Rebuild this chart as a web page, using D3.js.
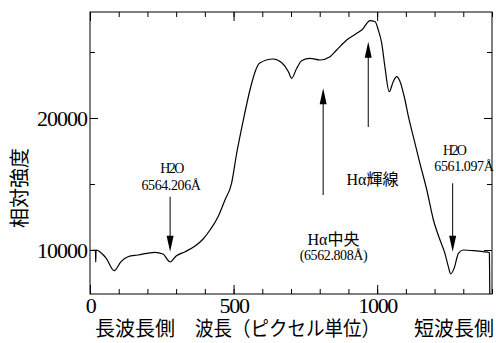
<!DOCTYPE html>
<html>
<head>
<meta charset="utf-8">
<script src="https://cdn.jsdelivr.net/npm/d3@7"></script>
<style>
body { margin: 0; background: #fff; }
svg { display: block; }
text { font-family: "Liberation Serif", "Noto Sans CJK JP", serif; fill: #000; }
</style>
</head>
<body>
<script>
// spectrum: pixel index and relative intensity
var pixel = [0, 19, 20, 21, 38, 56, 84, 108, 132, 167, 226, 254, 279, 300, 331, 366, 394, 418, 446, 470,
    493, 511, 534, 557, 575, 590, 638, 668, 691, 702, 720, 737, 766, 801, 836, 859, 894, 929, 952, 964,
    975, 993, 1004, 1016, 1027, 1042, 1056, 1068, 1080, 1097, 1109, 1126, 1149, 1173, 1196, 1219, 1236,
    1248, 1256, 1268, 1283, 1300, 1335, 1369, 1391, 1393];
var intensity = [9960, 10000, 9090, 10000, 9795, 9394, 8432, 9114, 9492, 9621, 9826, 9697, 9091, 9545, 9871, 10303, 10833, 11515, 12523, 13788,
    15053, 17348, 19848, 22121, 23508, 24144, 24470, 24190, 23508, 23008, 23765, 24341, 24523, 24394, 24644, 25152, 25909, 26417, 26795, 27174,
    27371, 27295, 26667, 25659, 23886, 21992, 22750, 23129, 22750, 21364, 20098, 18583, 16568, 14545, 12273, 10758, 9750,
    8735, 8182, 8614, 9750, 10000, 9947, 9871, 9795, 5000];

var xMajor = [0, 500, 1000];
var xMinor = d3.range(0, 1401, 100);
var yMajor = [10000, 20000];
var yMinor = [15000, 25000];

// arrows: pixel position, tail and tip intensity
var arrowPixel = [279, 812, 969, 1263];
var arrowTail = [14038, 14167, 19318, 15053];
var arrowTip = [9871, 22250, 25780, 9871];

var noteText = ["H2O", "6564.206Å", "H2O", "6561.097Å", "Hα輝線", "Hα中央", "(6562.808Å)"];
var notePixel = [284, 282, 1268, 1302, 984, 848, 848];
var noteLevel = [15833, 14545, 17197, 15985, 14924, 10379, 9242];

window.onload = drawChart();

function drawChart(){

    var width = 496, height = 343;
    var left = 90, right = 492, top = 12, bottom = 294;

    var svg = d3.select("body").append("svg")
        .attr("width", width)
        .attr("height", height);

    var x = d3.scaleLinear().domain([0, 1400]).range([left, right]);
    var y = d3.scaleLinear().domain([6667, 28030]).range([bottom, top]);

    svg.append("defs").append("clipPath").attr("id", "plot")
        .append("rect")
        .attr("x", left).attr("y", top)
        .attr("width", right - left).attr("height", bottom - top);

    //ticks, all pointing inward
    function ticks(axis, tx, ty) {
        var g = svg.append("g").attr("transform", "translate(" + tx + "," + ty + ")").call(axis);
        g.select(".domain").remove();
        g.selectAll(".tick line").attr("stroke", "#000");
        return g;
    }

    ticks(d3.axisBottom(x).tickValues(xMinor).tickSize(-5).tickFormat(""), 0, bottom);
    ticks(d3.axisTop(x).tickValues(xMinor).tickSize(-5).tickFormat(""), 0, top);
    ticks(d3.axisTop(x).tickValues(xMajor).tickSize(-9).tickFormat(""), 0, top);
    var xAxis = ticks(d3.axisBottom(x).tickValues(xMajor).tickSize(-9).tickPadding(19).tickFormat(d3.format("d")), 0, bottom);
    xAxis.selectAll("text")
        .style("font-size", "22px")
        .style("letter-spacing", "-1.3px")
        .attr("dy", 0);

    ticks(d3.axisLeft(y).tickValues(yMinor).tickSize(-5).tickFormat(""), left, 0);
    ticks(d3.axisRight(y).tickValues(yMinor).tickSize(-5).tickFormat(""), right, 0);
    ticks(d3.axisRight(y).tickValues(yMajor).tickSize(-8).tickFormat(""), right, 0);
    var yAxis = ticks(d3.axisLeft(y).tickValues(yMajor).tickSize(-8).tickPadding(3).tickFormat(d3.format("d")), left, 0);
    yAxis.selectAll("text")
        .style("font-size", "22px")
        .style("letter-spacing", "-1px")
        .attr("dy", "0.33em");

    //frame
    svg.append("rect")
        .attr("x", left).attr("y", top)
        .attr("width", right - left).attr("height", bottom - top)
        .attr("fill", "none")
        .attr("stroke", "#000")
        .attr("stroke-width", 1);

    //spectrum
    var line = d3.line()
        .x(function(d){ return x(d[0]); })
        .y(function(d){ return y(d[1]); })
        .curve(d3.curveMonotoneX);

    svg.append("path")
        .datum(d3.zip(pixel, intensity))
        .attr("clip-path", "url(#plot)")
        .attr("d", line)
        .attr("fill", "none")
        .attr("stroke", "#000")
        .attr("stroke-width", 1.2);

    //arrows
    arrowPixel.forEach(function(p, i){
        var ax = x(p), a0 = y(arrowTail[i]), a1 = y(arrowTip[i]);
        var dir = a1 > a0 ? 1 : -1;
        svg.append("line")
            .attr("x1", ax).attr("x2", ax)
            .attr("y1", a0).attr("y2", a1 - dir * 10)
            .attr("stroke", "#000")
            .attr("stroke-width", 1);
        svg.append("path")
            .attr("d", "M" + ax + "," + a1 +
                "L" + (ax - 3.5) + "," + (a1 - dir * 16) +
                "L" + (ax + 3.5) + "," + (a1 - dir * 16) + "Z")
            .attr("fill", "#000");
    });

    //labels on the arrows
    var noteSize = [14, 14, 14, 14, 16, 16, 14];
    var noteSpacing = [-1.6, -0.4, -1.6, -0.4, 0, 0, -0.4];
    noteText.forEach(function(t, i){
        svg.append("text")
            .attr("x", x(notePixel[i]))
            .attr("y", y(noteLevel[i]))
            .attr("text-anchor", "middle")
            .style("font-size", noteSize[i] + "px")
            .style("letter-spacing", noteSpacing[i] + "px")
            .text(t);
    });

    //axis titles
    svg.append("text")
        .attr("x", 95).attr("y", 336)
        .style("font-size", "20px")
        .text("長波長側");
    svg.append("text")
        .attr("x", 195).attr("y", 336)
        .attr("textLength", 185)
        .attr("lengthAdjust", "spacingAndGlyphs")
        .style("font-size", "20px")
        .text("波長（ピクセル単位）");
    svg.append("text")
        .attr("x", 494).attr("y", 336)
        .attr("text-anchor", "end")
        .style("font-size", "20px")
        .text("短波長側");

    svg.append("text")
        .attr("transform", "translate(20,188) rotate(-90)")
        .attr("text-anchor", "middle")
        .attr("dominant-baseline", "central")
        .style("font-size", "20px")
        .text("相対強度");
}
</script>
</body>
</html>
